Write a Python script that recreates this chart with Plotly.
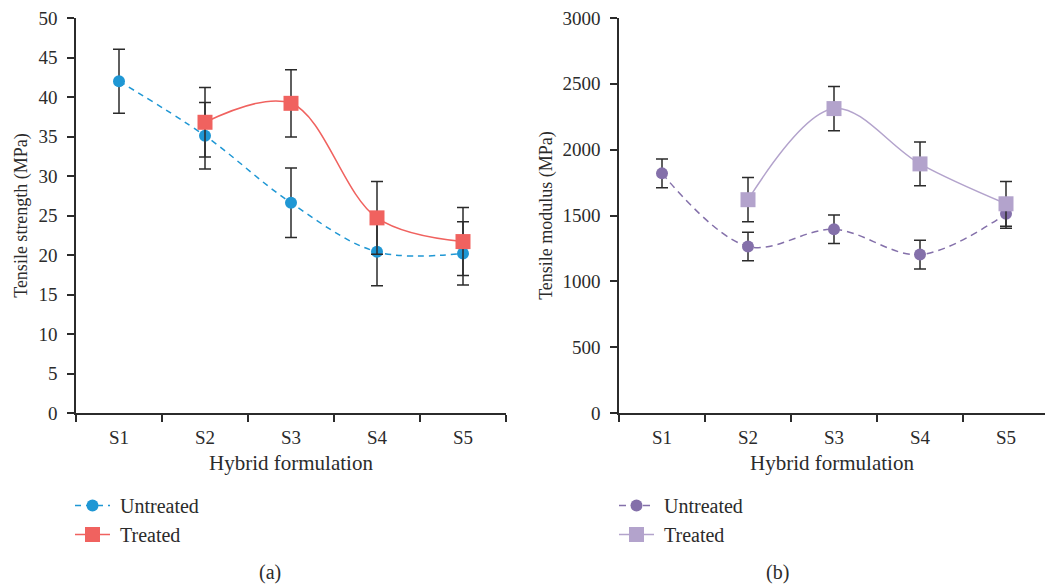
import plotly.graph_objects as go

# Sample labels shared by both panels
samples = ["S1", "S2", "S3", "S4", "S5"]

# (a) Tensile strength, MPa
strength_untreated = [42.0, 35.1, 26.6, 20.4, 20.2]
strength_untreated_err = [4.05, 4.2, 4.4, 4.3, 4.0]
strength_samples_treated = ["S2", "S3", "S4", "S5"]
strength_treated = [36.8, 39.2, 24.7, 21.7]
strength_treated_err = [4.4, 4.25, 4.6, 4.3]

# (b) Tensile modulus, MPa
modulus_untreated = [1820, 1265, 1395, 1203, 1513]
modulus_untreated_err = [110, 108, 108, 109, 110]
modulus_samples_treated = ["S2", "S3", "S4", "S5"]
modulus_treated = [1620, 2312, 1892, 1589]
modulus_treated_err = [168, 168, 167, 170]

FONT = "Liberation Serif"
INK = "#2b2b2b"
W, H = 1045, 586
NB = "\u00a0"

fig = go.Figure()


def err(values):
    return dict(type="data", array=values, visible=True, color=INK,
                thickness=1.5, width=6)


fig.add_trace(go.Scatter(
    x=samples, y=strength_untreated, name=NB + "Untreated",
    mode="lines+markers", xaxis="x", yaxis="y", legend="legend",
    line=dict(color="#1f97d4", width=1.5, dash="6px,5px", shape="spline", smoothing=1),
    marker=dict(symbol="circle", size=12, color="#1f97d4"),
    error_y=err(strength_untreated_err),
))
fig.add_trace(go.Scatter(
    x=strength_samples_treated, y=strength_treated, name=NB + "Treated",
    mode="lines+markers", xaxis="x", yaxis="y", legend="legend",
    line=dict(color="#f0625f", width=1.5, shape="spline", smoothing=1),
    marker=dict(symbol="square", size=15, color="#f0625f"),
    error_y=err(strength_treated_err),
))
fig.add_trace(go.Scatter(
    x=samples, y=modulus_untreated, name=NB + "Untreated",
    mode="lines+markers", xaxis="x2", yaxis="y2", legend="legend2",
    line=dict(color="#8470aa", width=1.5, dash="7px,5px", shape="spline", smoothing=1),
    marker=dict(symbol="circle", size=12, color="#8470aa"),
    error_y=err(modulus_untreated_err),
))
fig.add_trace(go.Scatter(
    x=modulus_samples_treated, y=modulus_treated, name=NB + "Treated",
    mode="lines+markers", xaxis="x2", yaxis="y2", legend="legend2",
    line=dict(color="#b3a3cc", width=1.5, shape="spline", smoothing=1),
    marker=dict(symbol="square", size=15, color="#b3a3cc"),
    error_y=err(modulus_treated_err),
))

ydom = [(H - 413) / H, (H - 18) / H]

axis_common = dict(
    showline=True, linecolor=INK, linewidth=1.5,
    ticks="outside", ticklen=7, tickwidth=1.5, tickcolor=INK,
    showgrid=False, zeroline=False, automargin=False,
    tickfont=dict(family=FONT, size=19, color=INK),
)

xaxis_common = dict(axis_common, type="category", categoryorder="array",
                    categoryarray=samples, tickson="boundaries",
                    ticklabelstandoff=6,
                    title=dict(text="Hybrid formulation", standoff=9,
                               font=dict(family=FONT, size=21, color=INK)))

legend_common = dict(xanchor="left", yanchor="top",
                     font=dict(family=FONT, size=20, color=INK),
                     bgcolor="rgba(0,0,0,0)", itemwidth=35, tracegroupgap=0)

label_font = dict(family=FONT, size=20, color=INK)

fig.update_layout(
    width=W, height=H,
    margin=dict(l=0, r=0, t=0, b=0, autoexpand=False),
    paper_bgcolor="white", plot_bgcolor="white",
    xaxis=dict(xaxis_common, domain=[76 / W, 506 / W], range=[-0.5, 4.5],
               anchor="y"),
    yaxis=dict(axis_common, domain=ydom, range=[0, 50], dtick=5,
               anchor="x", ticklabelstandoff=6,
               title=dict(text="Tensile strength (MPa)", standoff=6,
                          font=dict(family=FONT, size=18, color=INK))),
    xaxis2=dict(xaxis_common, domain=[619 / W, 1.0],
                range=[-0.5, -0.5 + (W - 619) / 86.0], anchor="y2"),
    yaxis2=dict(axis_common, domain=ydom, range=[0, 3000], dtick=500,
                anchor="x2", ticklabelstandoff=6,
                title=dict(text="Tensile modulus (MPa)", standoff=5,
                           font=dict(family=FONT, size=18, color=INK))),
    legend=dict(legend_common, x=70 / W, y=(H - 486) / H),
    legend2=dict(legend_common, x=614 / W, y=(H - 486) / H),
    annotations=[
        dict(text="(a)", x=257 / W, y=(H - 572) / H, xref="paper", yref="paper",
             yanchor="middle", showarrow=False, font=label_font),
        dict(text="(b)", x=791 / W, y=(H - 572) / H, xref="paper", yref="paper",
             yanchor="middle", showarrow=False, font=label_font),
    ],
)

fig.write_html("out.html")
